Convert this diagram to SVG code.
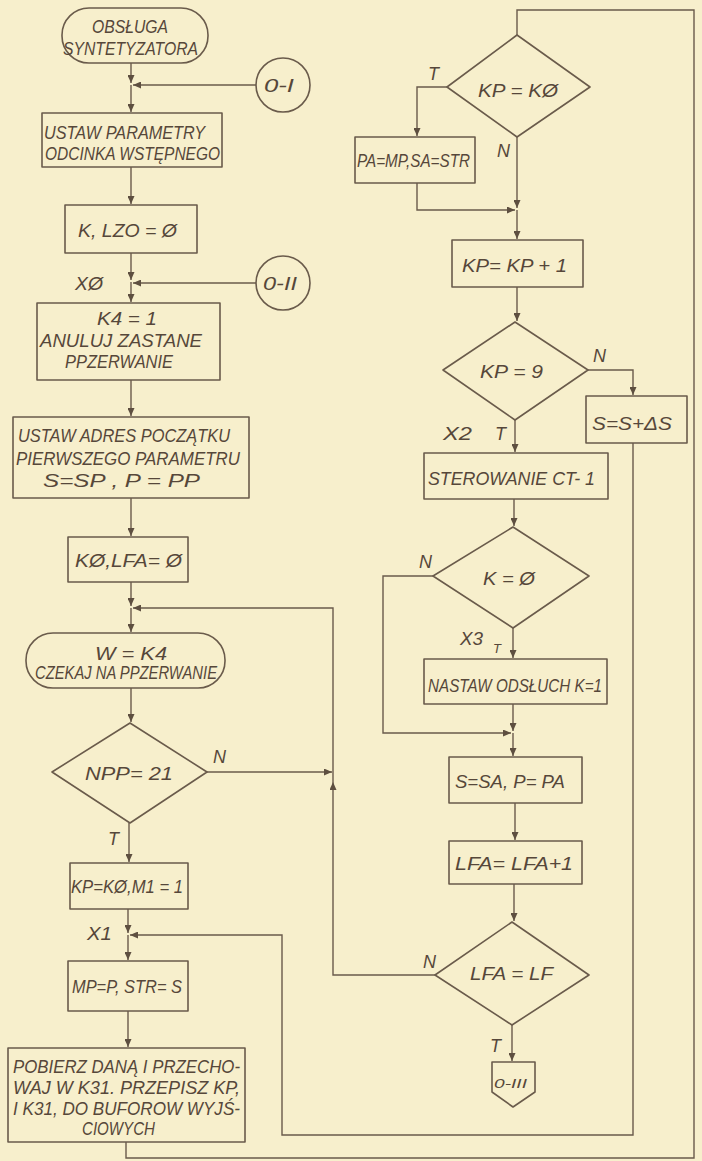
<svg xmlns="http://www.w3.org/2000/svg" width="702" height="1161" viewBox="0 0 702 1161">
<style>
.s{fill:none;stroke:#6a5b4b;stroke-width:1.6;stroke-linejoin:round}
.c{fill:none;stroke:#6a5b4b;stroke-width:1.4}
.c2{fill:none;stroke:#6a5b4b;stroke-width:1.4;marker-end:url(#a)}
text{font-family:"Liberation Sans","DejaVu Sans",sans-serif;font-style:italic;font-size:18px;fill:#56473a}
.sm{font-size:13px}
</style>
<defs>
<marker id="a" markerUnits="userSpaceOnUse" markerWidth="9" markerHeight="7" refX="8" refY="3.5" orient="auto">
<path d="M0,0 L8,3.5 L0,7 z" fill="#5e4f40"/>
</marker>
</defs>
<rect width="702" height="1161" fill="#f7efcc"/>

<g id="connectors">
<path class="c2" d="M131,63 V83"/>
<path class="c2" d="M131,85 V112"/>
<path class="c2" d="M256,85 H133"/>
<path class="c2" d="M131,167 V204"/>
<path class="c2" d="M131,253 V280"/>
<path class="c2" d="M131,282 V302"/>
<path class="c2" d="M256,283 H133"/>
<path class="c2" d="M131,380 V416"/>
<path class="c2" d="M131,498 V536"/>
<path class="c2" d="M131,582 V606"/>
<path class="c2" d="M131,608 V632"/>
<path class="c2" d="M131,688 V722"/>
<path class="c2" d="M207,772 H332"/>
<path class="c2" d="M129,823 V862"/>
<path class="c2" d="M128,909 V933"/>
<path class="c2" d="M128,935 V960"/>
<path class="c2" d="M633,443 V1135 H282 V935 H130"/>
<path class="c2" d="M128,1011 V1047"/>
<path class="c" d="M126,1142 V1158 H694 V10 H517 V35"/>
<path class="c2" d="M447,87 H417 V136"/>
<path class="c2" d="M417,183 V210 H515"/>
<path class="c2" d="M517,137 V208"/>
<path class="c2" d="M517,210 V239"/>
<path class="c2" d="M517,287 V321"/>
<path class="c2" d="M588,370 H633 V395"/>
<path class="c2" d="M515,420 V452"/>
<path class="c2" d="M514,499 V526"/>
<path class="c2" d="M433,576 H383 V733 H511"/>
<path class="c2" d="M513,628 V658"/>
<path class="c2" d="M513,704 V731"/>
<path class="c2" d="M513,733 V756"/>
<path class="c2" d="M515,803 V840"/>
<path class="c2" d="M514,884 V921"/>
<path class="c2" d="M435,975 H333 V782"/>
<path class="c2" d="M333,782 V608 H133"/>
<path class="c2" d="M512,1025 V1061"/>
</g>

<g id="start">
<rect class="s" x="62" y="8" width="146" height="55" rx="27"/>
<text x="92" y="33" textLength="76" lengthAdjust="spacingAndGlyphs">OBSŁUGA</text>
<text x="63" y="55" textLength="135" lengthAdjust="spacingAndGlyphs">SYNTETYZATORA</text>
</g>
<g id="conn-0-I">
<circle class="s" cx="283" cy="85" r="27"/>
<text x="264" y="92" textLength="30" lengthAdjust="spacingAndGlyphs">0-I</text>
</g>
<g id="ustaw-param">
<rect class="s" x="42" y="113" width="180" height="54"/>
<text x="44" y="139" textLength="161" lengthAdjust="spacingAndGlyphs">USTAW PARAMETRY</text>
<text x="45" y="160" textLength="175" lengthAdjust="spacingAndGlyphs">ODCINKA WSTĘPNEGO</text>
</g>
<g id="k-lzo">
<rect class="s" x="65" y="205" width="132" height="48"/>
<text x="78" y="237" textLength="99" lengthAdjust="spacingAndGlyphs">K, LZO = Ø</text>
</g>
<g id="label-x0">
<text x="75" y="290" textLength="28" lengthAdjust="spacingAndGlyphs">XØ</text>
</g>
<g id="conn-0-II">
<circle class="s" cx="283" cy="283" r="27"/>
<text x="263" y="290" textLength="34" lengthAdjust="spacingAndGlyphs">0-II</text>
</g>
<g id="k4">
<rect class="s" x="37" y="303" width="183" height="77"/>
<text x="97" y="325" textLength="60" lengthAdjust="spacingAndGlyphs">K4 = 1</text>
<text x="40" y="347" textLength="162" lengthAdjust="spacingAndGlyphs">ANULUJ ZASTANE</text>
<text x="65" y="368" textLength="108" lengthAdjust="spacingAndGlyphs">PPZERWANIE</text>
</g>
<g id="ustaw-adres">
<rect class="s" x="13" y="417" width="236" height="81"/>
<text x="18" y="442" textLength="212" lengthAdjust="spacingAndGlyphs">USTAW ADRES POCZĄTKU</text>
<text x="16" y="465" textLength="224" lengthAdjust="spacingAndGlyphs">PIERWSZEGO PARAMETRU</text>
<text x="43" y="487" textLength="157" lengthAdjust="spacingAndGlyphs">S=SP ,  P = PP</text>
</g>
<g id="k0-lfa">
<rect class="s" x="68" y="537" width="120" height="45"/>
<text x="75" y="567" textLength="107" lengthAdjust="spacingAndGlyphs">KØ,LFA= Ø</text>
</g>
<g id="czekaj">
<rect class="s" x="26" y="633" width="199" height="55" rx="27"/>
<text x="95" y="660" textLength="72" lengthAdjust="spacingAndGlyphs">W = K4</text>
<text x="35" y="679" textLength="182" lengthAdjust="spacingAndGlyphs">CZEKAJ NA PPZERWANIE</text>
</g>
<g id="npp">
<polygon class="s" points="130,723 207,772 130,823 52,772"/>
<text x="85" y="780" textLength="88" lengthAdjust="spacingAndGlyphs">NPP= 21</text>
<text x="213" y="763">N</text>
<text x="108" y="845">T</text>
</g>
<g id="kp-k0-m1">
<rect class="s" x="70" y="863" width="118" height="46"/>
<text x="71" y="893" textLength="112" lengthAdjust="spacingAndGlyphs">KP=KØ,M1 = 1</text>
</g>
<g id="label-x1">
<text x="87" y="940" textLength="25" lengthAdjust="spacingAndGlyphs">X1</text>
</g>
<g id="mp-str">
<rect class="s" x="68" y="961" width="120" height="50"/>
<text x="72" y="993" textLength="110" lengthAdjust="spacingAndGlyphs">MP=P, STR= S</text>
</g>
<g id="pobierz">
<rect class="s" x="8" y="1048" width="237" height="94"/>
<text x="13" y="1073" textLength="227" lengthAdjust="spacingAndGlyphs">POBIERZ DANĄ I PRZECHO-</text>
<text x="13" y="1094" textLength="227" lengthAdjust="spacingAndGlyphs">WAJ W K31. PRZEPISZ KP,</text>
<text x="13" y="1115" textLength="227" lengthAdjust="spacingAndGlyphs">I K31, DO BUFOROW WYJŚ-</text>
<text x="82" y="1135" textLength="73" lengthAdjust="spacingAndGlyphs">CIOWYCH</text>
</g>
<g id="kp-k0">
<polygon class="s" points="517,35 590,87 517,137 447,87"/>
<text x="478" y="97" textLength="80" lengthAdjust="spacingAndGlyphs">KP = KØ</text>
<text x="428" y="80">T</text>
<text x="497" y="157">N</text>
</g>
<g id="pa-sa">
<rect class="s" x="355" y="137" width="120" height="46"/>
<text x="357" y="167" textLength="113" lengthAdjust="spacingAndGlyphs">PA=MP,SA=STR</text>
</g>
<g id="kp-inc">
<rect class="s" x="452" y="240" width="131" height="47"/>
<text x="462" y="272" textLength="105" lengthAdjust="spacingAndGlyphs">KP= KP + 1</text>
</g>
<g id="kp-9">
<polygon class="s" points="515,322 588,370 515,420 443,370"/>
<text x="480" y="378" textLength="63" lengthAdjust="spacingAndGlyphs">KP = 9</text>
<text x="593" y="362">N</text>
<text x="443" y="440" textLength="29" lengthAdjust="spacingAndGlyphs">X2</text>
<text x="495" y="440">T</text>
</g>
<g id="s-inc">
<rect class="s" x="586" y="396" width="101" height="47"/>
<text x="592" y="430" textLength="80" lengthAdjust="spacingAndGlyphs">S=S+ΔS</text>
</g>
<g id="sterowanie">
<rect class="s" x="424" y="453" width="184" height="46"/>
<text x="428" y="485" textLength="167" lengthAdjust="spacingAndGlyphs">STEROWANIE  CT- 1</text>
</g>
<g id="k-0">
<polygon class="s" points="513,527 589,576 513,628 433,576"/>
<text x="483" y="585" textLength="52" lengthAdjust="spacingAndGlyphs">K = Ø</text>
<text x="419" y="568">N</text>
<text x="460" y="645" textLength="23" lengthAdjust="spacingAndGlyphs">X3</text>
<text x="493" y="653" class="sm">T</text>
</g>
<g id="nastaw">
<rect class="s" x="424" y="659" width="183" height="45"/>
<text x="428" y="692" textLength="174" lengthAdjust="spacingAndGlyphs">NASTAW ODSŁUCH K=1</text>
</g>
<g id="s-sa">
<rect class="s" x="449" y="757" width="133" height="46"/>
<text x="455" y="788" textLength="110" lengthAdjust="spacingAndGlyphs">S=SA, P= PA</text>
</g>
<g id="lfa-inc">
<rect class="s" x="449" y="841" width="133" height="43"/>
<text x="455" y="870" textLength="118" lengthAdjust="spacingAndGlyphs">LFA= LFA+1</text>
</g>
<g id="lfa-lf">
<polygon class="s" points="512,922 589,975 512,1025 435,975"/>
<text x="470" y="980" textLength="83" lengthAdjust="spacingAndGlyphs">LFA  = LF</text>
<text x="423" y="968">N</text>
<text x="490" y="1052">T</text>
</g>
<g id="conn-0-III">
<polygon class="s" points="492,1062 535,1062 535,1092 513,1107 492,1092"/>
<text class="sm" x="494" y="1088" textLength="33" lengthAdjust="spacingAndGlyphs">0-III</text>
</g>
</svg>
